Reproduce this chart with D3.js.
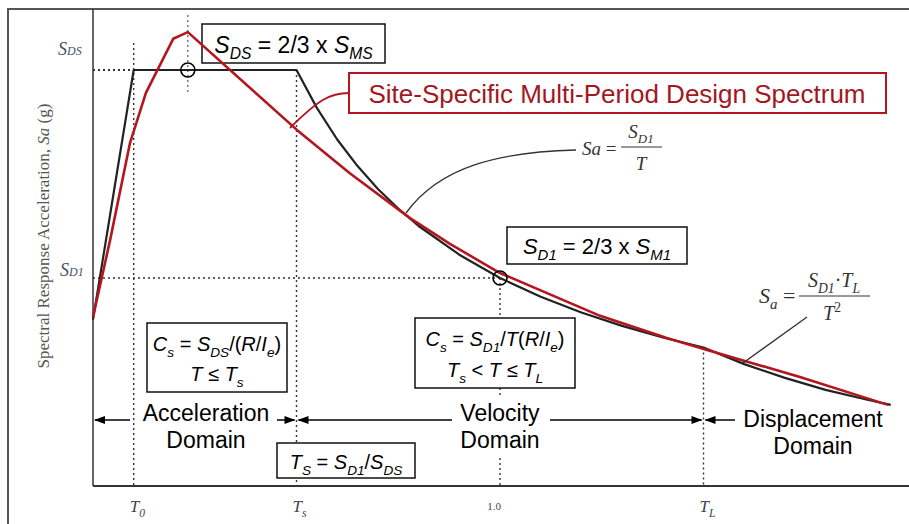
<!DOCTYPE html>
<html><head><meta charset="utf-8">
<script src="https://cdn.jsdelivr.net/npm/d3@7/dist/d3.min.js"></script>
<style>html,body{margin:0;padding:0;background:#fff;} svg{display:block;} text{white-space:pre;}</style>
</head><body><svg id="c" width="909" height="524"></svg>
<script>
// ---- data (T in s, Sa in units of S_DS) ----
const codeT  = [0, 0.1, 0.5, 0.55, 0.6, 0.65, 0.7, 0.75, 0.8, 0.9, 1.0, 1.1, 1.2, 1.3, 1.4, 1.5, 1.6, 1.7, 1.8, 1.9, 1.96];
const codeSa = [0.40, 1.00, 1.00, 0.909, 0.833, 0.769, 0.714, 0.667, 0.625, 0.556, 0.500, 0.455, 0.417, 0.385, 0.357, 0.333, 0.293, 0.260, 0.231, 0.208, 0.195];
const siteT  = [0, 0.042, 0.091, 0.130, 0.197, 0.233, 0.501, 0.631, 0.779, 0.877, 1.0, 1.246, 1.410, 1.509, 1.737, 1.953];
const siteSa = [0.406, 0.591, 0.825, 0.945, 1.075, 1.091, 0.856, 0.752, 0.644, 0.582, 0.512, 0.409, 0.356, 0.327, 0.262, 0.195];
const SDS = 1.0, SD1 = 0.5;
const T0 = 0.1, Ts = 0.5, T1 = 1.0, TL = 1.5;
const tickT = [T0, Ts, T1, TL];
const tickLabels = [["T", "0"], ["T", "s"], ["1.0", ""], ["T", "L"]];
const domainLabels = [["Acceleration", "Domain"], ["Velocity", "Domain"], ["Displacement", "Domain"]];

const svg = d3.select("#c");
const x = d3.scaleLinear().domain([0, 1]).range([93, 500]);
const y = d3.scaleLinear().domain([0, 1]).range([486, 70]);
const SANS = "'Liberation Sans', Arial, sans-serif";
const SERIF = "'Liberation Serif', 'Times New Roman', serif";

function rich(sel, px, py, parts, size, family, anchor, fill) {
  const t = sel.append("text").attr("x", px).attr("y", py).attr("font-size", size)
    .attr("font-family", family).attr("text-anchor", anchor || "start").attr("fill", fill || "#000");
  let shift = 0;
  parts.forEach(([s, st]) => {
    st = st || "";
    const isSub = st.includes("sub"), isSup = st.includes("sup");
    const target = isSub ? size * 0.28 : isSup ? -size * 0.4 : 0;
    const ts = t.append("tspan").text(s).attr("dy", target - shift);
    shift = target;
    if (isSub || isSup) ts.attr("font-size", size * 0.68);
    if (st.includes("i")) ts.attr("font-style", "italic");
  });
  return t;
}

// outer frame
svg.append("path").attr("d", "M8,524V9H909").attr("fill", "none").attr("stroke", "#555").attr("stroke-width", 2);

// dotted reference lines
const dot = svg.append("g").attr("stroke", "#333").attr("stroke-width", 1.4).attr("stroke-dasharray", "2,3").attr("fill", "none");
dot.append("line").attr("x1", x(0)).attr("x2", x(T0)).attr("y1", y(SDS)).attr("y2", y(SDS)).attr("stroke-width", 2);
dot.append("line").attr("x1", x(0)).attr("x2", x(T1)).attr("y1", y(SD1)).attr("y2", y(SD1));
dot.append("line").attr("x1", x(T0)).attr("x2", x(T0)).attr("y1", 43).attr("y2", y(0));
dot.append("line").attr("x1", x(Ts)).attr("x2", x(Ts)).attr("y1", y(SDS)).attr("y2", y(0));
dot.append("line").attr("x1", x(T1)).attr("x2", x(T1)).attr("y1", y(SD1)).attr("y2", y(0));
dot.append("line").attr("x1", x(TL)).attr("x2", x(TL)).attr("y1", y(codeSa[15])).attr("y2", y(0));
dot.append("line").attr("x1", x(siteT[5])).attr("x2", x(siteT[5])).attr("y1", 15).attr("y2", 92).attr("stroke-width", 1);

// boxes
function box(x0, y0, x1, y1, fill, stroke, sw) {
  svg.append("rect").attr("x", x0).attr("y", y0).attr("width", x1 - x0).attr("height", y1 - y0)
    .attr("fill", fill).attr("stroke", stroke).attr("stroke-width", sw);
}
box(202, 24, 385, 63, "none", "#111", 1.5);
rich(svg, 293.5, 53, [["S", "i"], ["DS", "isub"], [" = 2/3 x "], ["S", "i"], ["MS", "isub"]], 23, SANS, "middle");
box(507, 227, 687, 264, "#fff", "#111", 1.5);
rich(svg, 597, 254, [["S", "i"], ["D1", "isub"], [" = 2/3 x "], ["S", "i"], ["M1", "isub"]], 22, SANS, "middle");
box(147, 323, 287, 392, "#fff", "#111", 1.5);
rich(svg, 217, 351, [["C", "i"], ["s", "isub"], [" = "], ["S", "i"], ["DS", "isub"], ["/("], ["R", "i"], ["/"], ["I", "i"], ["e", "isub"], [")"]], 20, SANS, "middle");
rich(svg, 217, 381, [["T", "i"], [" ≤ "], ["T", "i"], ["s", "isub"]], 20, SANS, "middle");
box(415, 318, 575, 388, "#fff", "#111", 1.5);
rich(svg, 495, 346, [["C", "i"], ["s", "isub"], [" = "], ["S", "i"], ["D1", "isub"], ["/"], ["T", "i"], ["("], ["R", "i"], ["/"], ["I", "i"], ["e", "isub"], [")"]], 20, SANS, "middle");
rich(svg, 495, 377, [["T", "i"], ["s", "isub"], [" < "], ["T", "i"], [" ≤ "], ["T", "i"], ["L", "isub"]], 20, SANS, "middle");
box(277, 443, 415, 478, "#fff", "#111", 1.5);
rich(svg, 346, 469, [["T", "i"], ["S", "isub"], [" = "], ["S", "i"], ["D1", "isub"], ["/"], ["S", "i"], ["DS", "isub"]], 20, SANS, "middle");

// domain labels with dimension arrows
const ay = 420;
svg.append("rect").attr("x", 455).attr("y", 398).attr("width", 90).attr("height", 58).attr("fill", "#fff");
function arrow(xTip, yy, dir) {
  svg.append("path").attr("d", `M${xTip},${yy}L${xTip - dir * 11},${yy - 4}L${xTip - dir * 11},${yy + 4}Z`).attr("fill", "#000");
}
const ag = svg.append("g").attr("stroke", "#000").attr("stroke-width", 1.5);
ag.append("line").attr("x1", x(0) + 2).attr("x2", 130).attr("y1", ay).attr("y2", ay);
ag.append("line").attr("x1", 277).attr("x2", x(Ts) - 2).attr("y1", ay).attr("y2", ay);
ag.append("line").attr("x1", x(Ts) + 2).attr("x2", 452).attr("y1", ay).attr("y2", ay);
ag.append("line").attr("x1", 550).attr("x2", x(TL) - 2).attr("y1", ay).attr("y2", ay);
ag.append("line").attr("x1", x(TL) + 2).attr("x2", 735).attr("y1", ay).attr("y2", ay);
arrow(x(0) + 1, ay, -1); arrow(x(Ts) - 1, ay, 1); arrow(x(Ts) + 1, ay, -1); arrow(x(TL) - 1, ay, 1); arrow(x(TL) + 1, ay, -1);
const dl = [[206, 421, 448], [500, 421, 448], [813, 427, 454]];
domainLabels.forEach((d, i) => {
  svg.append("text").attr("x", dl[i][0]).attr("y", dl[i][1]).attr("text-anchor", "middle").attr("font-family", SANS).attr("font-size", 23).text(d[0]);
  svg.append("text").attr("x", dl[i][0]).attr("y", dl[i][2]).attr("text-anchor", "middle").attr("font-family", SANS).attr("font-size", 23).text(d[1]);
});

// axes
svg.append("line").attr("x1", x(0)).attr("x2", x(0)).attr("y1", 9).attr("y2", y(0)).attr("stroke", "#333").attr("stroke-width", 1.5);
svg.append("line").attr("x1", x(0)).attr("x2", 909).attr("y1", y(0)).attr("y2", y(0)).attr("stroke", "#333").attr("stroke-width", 1.8);

// tick labels
tickT.forEach((t, i) => {
  const [a, b] = tickLabels[i];
  if (b) rich(svg, x(t) - 4, 512, [[a, "i"], [b, "isub"]], 17, SERIF, "start", "#444");
  else svg.append("text").attr("x", x(t) - 6).attr("y", 510).attr("text-anchor", "middle").attr("font-family", SERIF).attr("font-size", 11).attr("fill", "#444").text(a);
});

// y labels
rich(svg, 58, 55, [["S", "i"], ["DS", "i"]], 18, SERIF, "start", "#4a5068").select("tspan:nth-child(2)").attr("font-size", 12);
rich(svg, 60, 276, [["S", "i"], ["D1", "i"]], 18, SERIF, "start", "#4a5068").select("tspan:nth-child(2)").attr("font-size", 12);
const yt = svg.append("text").attr("transform", "translate(49,236) rotate(-90)").attr("text-anchor", "middle")
  .attr("font-family", SERIF).attr("font-size", 17).attr("fill", "#555");
yt.append("tspan").text("Spectral Response Acceleration, ");
yt.append("tspan").text("Sa").attr("font-style", "italic");
yt.append("tspan").text(" (g)");

// curves
const line = d3.line().x(d => x(d[0])).y(d => y(d[1]));
svg.append("path").attr("d", line(codeT.map((t, i) => [t, codeSa[i]]))).attr("fill", "none").attr("stroke", "#222").attr("stroke-width", 2.2).attr("stroke-linejoin", "round");
svg.append("path").attr("d", line(siteT.map((t, i) => [t, siteSa[i]]))).attr("fill", "none").attr("stroke", "#b3161e").attr("stroke-width", 2.6).attr("stroke-linejoin", "round");

// circles
[[siteT[5], SDS], [T1, SD1]].forEach(p => {
  svg.append("circle").attr("cx", x(p[0])).attr("cy", y(p[1])).attr("r", 7).attr("fill", "none").attr("stroke", "#000").attr("stroke-width", 1.6);
});

// red legend box and connector
svg.append("path").attr("d", "M349,93 C330,93 318,100 290,128").attr("fill", "none").attr("stroke", "#b3161e").attr("stroke-width", 1.8);
box(349, 73, 886, 113, "#fff", "#b3161e", 2);
svg.append("text").attr("x", 617).attr("y", 103).attr("text-anchor", "middle").attr("font-family", SANS).attr("font-size", 26).attr("fill", "#a3171e").text("Site-Specific Multi-Period Design Spectrum");

// Sa = SD1/T formula
svg.append("path").attr("d", "M576,150 C500,152 440,166 406,213").attr("fill", "none").attr("stroke", "#333").attr("stroke-width", 1.3);
rich(svg, 582, 155, [["S", "i"], ["a", "i"], [" ="]], 19, SERIF, "start", "#333");
rich(svg, 641, 138, [["S", "i"], ["D1", "isub"]], 19, SERIF, "middle", "#333");
svg.append("line").attr("x1", 621).attr("x2", 662).attr("y1", 147).attr("y2", 147).attr("stroke", "#333").attr("stroke-width", 1);
rich(svg, 641, 170, [["T", "i"]], 19, SERIF, "middle", "#333");

// Sa = SD1 TL / T^2 formula
svg.append("line").attr("x1", 807).attr("x2", 743).attr("y1", 317).attr("y2", 363).attr("stroke", "#333").attr("stroke-width", 1.3);
rich(svg, 759, 303, [["S", "i"], ["a", "isub"], [" ="]], 22, SERIF, "start", "#333");
rich(svg, 834, 287, [["S", "i"], ["D1", "isub"], ["·"], ["T", "i"], ["L", "isub"]], 20, SERIF, "middle", "#333");
svg.append("line").attr("x1", 799).attr("x2", 870).attr("y1", 296).attr("y2", 296).attr("stroke", "#333").attr("stroke-width", 1);
rich(svg, 832, 320, [["T", "i"], ["2", "sup"]], 20, SERIF, "middle", "#333");
</script></body></html>
